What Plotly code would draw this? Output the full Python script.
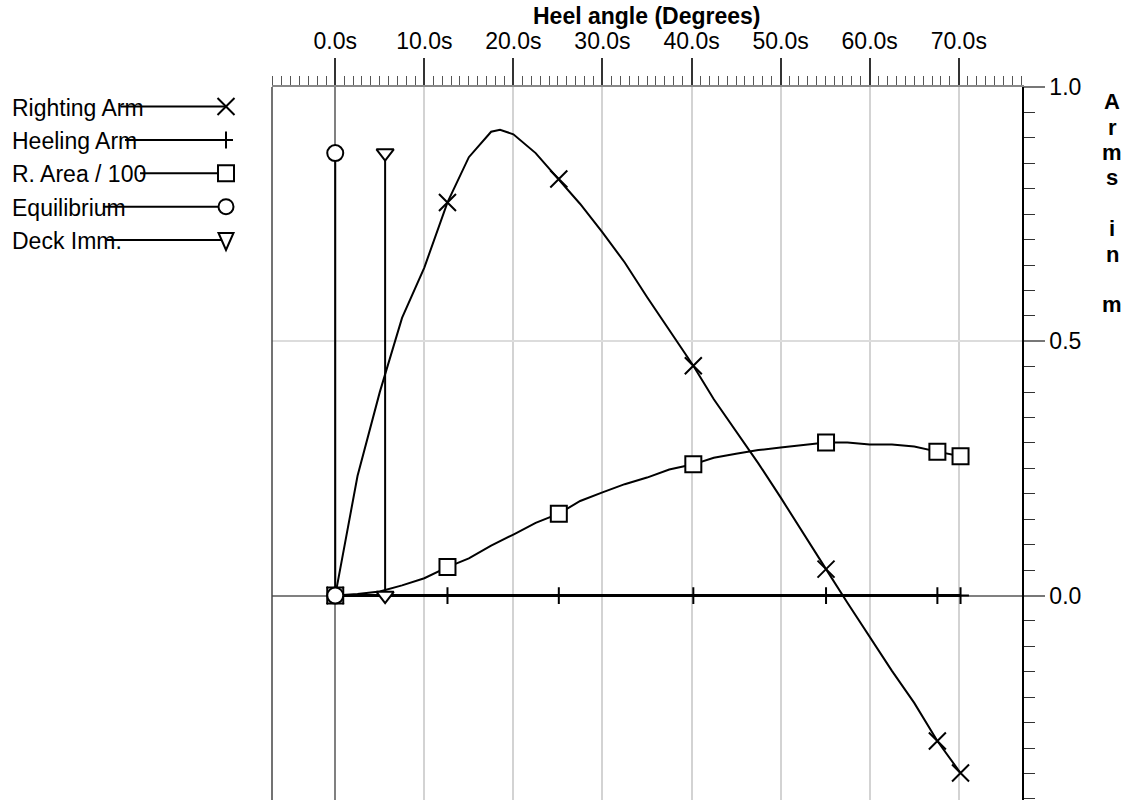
import plotly.graph_objects as go

# ---------------- data ----------------
series_names = ["Righting Arm", "Heeling Arm", "R. Area / 100", "Equilibrium", "Deck Imm."]

# Righting arm (GZ) curve, metres
ra_deg = [0, 2.5, 5.0, 7.5, 10.0, 12.6, 15.0, 17.5, 18.5, 20.0, 22.5, 25.1, 27.5, 30.0,
          32.5, 35.0, 37.5, 40.2, 42.5, 45.0, 47.5, 50.0, 52.5, 55.1, 57.5, 60.0,
          62.5, 65.0, 67.6, 70.2]
ra_val = [0.0, 0.235, 0.400, 0.546, 0.645, 0.773, 0.862, 0.912, 0.916, 0.907, 0.870, 0.819,
          0.770, 0.714, 0.655, 0.587, 0.522, 0.452, 0.386, 0.322, 0.260, 0.193, 0.125,
          0.052, -0.014, -0.080, -0.148, -0.211, -0.286, -0.349]

# angles at which the series carry a marker
marker_deg = [0, 12.6, 25.1, 40.2, 55.1, 67.6, 70.2]

# Heeling arm (zero everywhere)
ha_val = [0.0, 0.0, 0.0, 0.0, 0.0, 0.0, 0.0]

# Righting area / 100
ar_deg = [0, 2.5, 5.0, 7.5, 10.0, 12.6, 15.0, 17.5, 20.0, 22.5, 25.1, 27.5, 30.0, 32.5,
          35.0, 37.5, 40.2, 42.5, 45.0, 47.5, 50.0, 52.5, 55.1, 57.5, 60.0, 62.5, 65.0,
          67.6, 70.2]
ar_val = [0.0, 0.003, 0.008, 0.020, 0.034, 0.056, 0.073, 0.098, 0.120, 0.143, 0.161, 0.186,
          0.203, 0.219, 0.232, 0.248, 0.258, 0.271, 0.279, 0.286, 0.291, 0.296, 0.301,
          0.301, 0.297, 0.297, 0.293, 0.283, 0.274]

# Equilibrium and deck immersion angles (vertical markers)
eq_deg = [0.0, 0.0]
eq_val = [0.0, 0.87]
di_deg = [5.6, 5.6]
di_val = [0.0, 0.87]

x_ticks = [0, 10, 20, 30, 40, 50, 60, 70]
x_tick_text = ["%.1fs" % v for v in x_ticks]
y_ticks = [0.0, 0.5, 1.0]
y_tick_text = ["%.1f" % v for v in y_ticks]
y_title_chars = ["A", "r", "m", "s", "", "i", "n", "", "m"]

# ---------------- layout geometry ----------------
W, H = 1132, 800
L, R, T, B = 272, 110, 87, 0
PW, PH = W - L - R, H - T - B
FONT = "Liberation Sans, Arial, Helvetica, sans-serif"


def px(xp):
    return (xp - L) / PW


def py(yp):
    return (H - B - yp) / PH


BLACK = "#000000"

ra_mk = [ra_val[ra_deg.index(d)] for d in marker_deg]
ar_mk = [ar_val[ar_deg.index(d)] for d in marker_deg]

fig = go.Figure()

# Righting arm
fig.add_trace(go.Scatter(x=ra_deg, y=ra_val, mode="lines",
                         line=dict(color=BLACK, width=2), showlegend=False, hoverinfo="skip"))
fig.add_trace(go.Scatter(x=marker_deg, y=ra_mk, mode="markers", name=series_names[0],
                         marker=dict(symbol="x-thin", size=17, line=dict(color=BLACK, width=2)),
                         showlegend=False))
# Heeling arm
fig.add_trace(go.Scatter(x=marker_deg, y=ha_val, mode="lines+markers", name=series_names[1],
                         line=dict(color=BLACK, width=3),
                         marker=dict(symbol="cross-thin", size=12, line=dict(color=BLACK, width=2)),
                         showlegend=False))
# Area
fig.add_trace(go.Scatter(x=ar_deg, y=ar_val, mode="lines",
                         line=dict(color=BLACK, width=2), showlegend=False, hoverinfo="skip"))
fig.add_trace(go.Scatter(x=marker_deg, y=ar_mk, mode="markers", name=series_names[2],
                         marker=dict(symbol="square", size=16, color="white",
                                     line=dict(color=BLACK, width=2)),
                         showlegend=False))
# Equilibrium
fig.add_trace(go.Scatter(x=eq_deg, y=eq_val, mode="lines+markers", name=series_names[3],
                         line=dict(color=BLACK, width=2),
                         marker=dict(symbol="circle", size=16, color="white",
                                     line=dict(color=BLACK, width=2)),
                         showlegend=False))
# Deck immersion
fig.add_trace(go.Scatter(x=di_deg, y=di_val, mode="lines+markers", name=series_names[4],
                         line=dict(color=BLACK, width=2),
                         marker=dict(symbol="triangle-down", size=15, color="white",
                                     line=dict(color=BLACK, width=2)),
                         showlegend=False))

shapes = []
annotations = []

# left frame line
shapes.append(dict(type="line", xref="paper", yref="paper", x0=0, x1=0, y0=0, y1=1,
                   line=dict(color="#444444", width=1.5), layer="above"))

# ---------------- manual legend ----------------
leg_rows = [106.5, 140.0, 173.3, 206.7, 240.0]
leg_line_start = [121, 125, 140, 103, 107]
leg_mx = 226
symbols = ["x", "plus", "square", "circle", "tri"]
for name, yy, x0, sym in zip(series_names, leg_rows, leg_line_start, symbols):
    annotations.append(dict(text=name, xref="paper", yref="paper", x=px(10), y=py(yy + 1),
                            xanchor="left", yanchor="middle", showarrow=False,
                            font=dict(family=FONT, size=23, color=BLACK)))
    shapes.append(dict(type="line", xref="paper", yref="paper", x0=px(x0), x1=px(leg_mx),
                       y0=py(yy), y1=py(yy), line=dict(color=BLACK, width=2)))
    ln = dict(color=BLACK, width=2)
    if sym == "x":
        s = 8.5
        shapes.append(dict(type="line", xref="paper", yref="paper", x0=px(leg_mx - s), x1=px(leg_mx + s),
                           y0=py(yy - s), y1=py(yy + s), line=ln))
        shapes.append(dict(type="line", xref="paper", yref="paper", x0=px(leg_mx - s), x1=px(leg_mx + s),
                           y0=py(yy + s), y1=py(yy - s), line=ln))
    elif sym == "plus":
        shapes.append(dict(type="line", xref="paper", yref="paper", x0=px(leg_mx), x1=px(leg_mx),
                           y0=py(yy - 8.5), y1=py(yy + 8.5), line=ln))
        shapes.append(dict(type="line", xref="paper", yref="paper", x0=px(leg_mx - 7), x1=px(leg_mx + 7),
                           y0=py(yy), y1=py(yy), line=ln))
    elif sym == "square":
        shapes.append(dict(type="rect", xref="paper", yref="paper", x0=px(leg_mx - 8), x1=px(leg_mx + 8),
                           y0=py(yy - 8), y1=py(yy + 8), line=ln, fillcolor="white"))
    elif sym == "circle":
        shapes.append(dict(type="circle", xref="paper", yref="paper", x0=px(leg_mx - 7.5), x1=px(leg_mx + 7.5),
                           y0=py(yy - 7.5), y1=py(yy + 7.5), line=ln, fillcolor="white"))
    else:
        path = "M {a},{b} L {c},{b} L {d},{e} Z".format(a=px(leg_mx - 7.5), b=py(yy - 7), c=px(leg_mx + 7.5),
                                                        d=px(leg_mx), e=py(yy + 10))
        shapes.append(dict(type="path", xref="paper", yref="paper", path=path, line=ln, fillcolor="white"))

# ---------------- axis titles ----------------
annotations.append(dict(text="<b>Heel angle (Degrees)</b>", xref="paper", yref="paper",
                        x=0.5, y=py(16.5), xanchor="center", yanchor="middle", showarrow=False,
                        font=dict(family=FONT, size=23, color=BLACK)))
for k, ch in enumerate(y_title_chars):
    if ch:
        annotations.append(dict(text="<b>%s</b>" % ch, xref="paper", yref="paper",
                                x=px(1112), y=py(101.7 + 25.4 * k), xanchor="center", yanchor="middle",
                                showarrow=False, font=dict(family=FONT, size=22, color=BLACK)))

fig.update_layout(
    width=W, height=H,
    margin=dict(l=L, r=R, t=T, b=B, pad=0),
    paper_bgcolor="white", plot_bgcolor="white",
    font=dict(family=FONT, size=23, color=BLACK),
    shapes=shapes, annotations=annotations,
    showlegend=False,
)

fig.update_xaxes(
    side="top", range=[-7.1, 77.1], tickmode="array", tickvals=x_ticks, ticktext=x_tick_text,
    ticks="outside", ticklen=27, tickwidth=1.5, tickcolor="#333333",
    showline=True, linecolor="#888888", linewidth=2,
    showgrid=True, gridcolor="#d3d3d3", gridwidth=1.5,
    zeroline=True, zerolinecolor="#808080", zerolinewidth=1.5,
    minor=dict(dtick=1, tick0=0, ticks="outside", ticklen=9, tickwidth=1, tickcolor="#555555",
               showgrid=False),
    tickfont=dict(family=FONT, size=23, color=BLACK),
    automargin=False, fixedrange=True,
)
fig.update_yaxes(
    side="right", range=[-0.402, 1.0], tickmode="array", tickvals=y_ticks, ticktext=y_tick_text,
    ticks="outside", ticklen=21, tickwidth=2, tickcolor="#777777",
    showline=True, linecolor=BLACK, linewidth=1.5,
    showgrid=True, gridcolor="#dcdcdc", gridwidth=1.5,
    zeroline=True, zerolinecolor="#808080", zerolinewidth=2,
    minor=dict(dtick=0.05, tick0=0, ticks="outside", ticklen=11, tickwidth=1.2, tickcolor="#333333",
               showgrid=False),
    tickfont=dict(family=FONT, size=23, color=BLACK),
    automargin=False, fixedrange=True,
)

fig.write_html("out.html", config={"displayModeBar": False})
